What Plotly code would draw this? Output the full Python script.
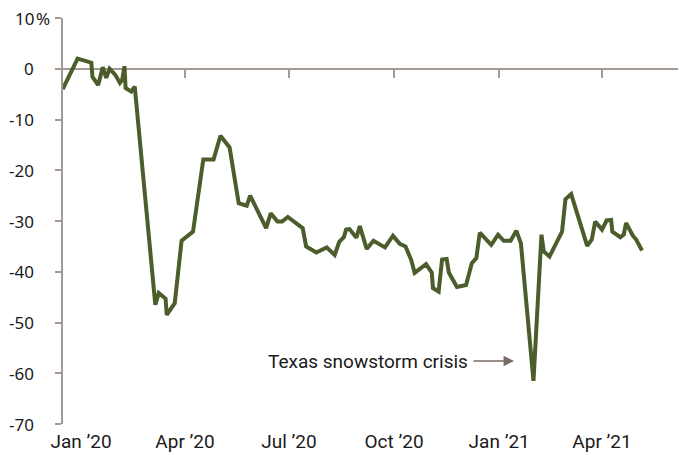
import plotly.graph_objects as go

# Weekly year-over-year change in spending, %
dates = [
    "2019-12-16", "2019-12-29", "2020-01-10", "2020-01-11", "2020-01-16",
    "2020-01-20", "2020-01-23", "2020-01-26", "2020-01-31", "2020-02-04",
    "2020-02-06", "2020-02-08", "2020-02-09", "2020-02-14", "2020-02-17",
    "2020-03-06", "2020-03-09", "2020-03-15", "2020-03-16", "2020-03-23",
    "2020-03-29", "2020-04-08", "2020-04-17", "2020-04-26", "2020-05-02",
    "2020-05-10", "2020-05-18", "2020-05-25", "2020-05-28", "2020-06-11",
    "2020-06-15", "2020-06-21", "2020-06-25", "2020-06-30", "2020-07-13",
    "2020-07-16", "2020-07-25", "2020-08-03", "2020-08-10", "2020-08-14",
    "2020-08-18", "2020-08-20", "2020-08-23", "2020-08-29", "2020-09-01",
    "2020-09-07", "2020-09-13", "2020-09-23", "2020-09-30", "2020-10-06",
    "2020-10-11", "2020-10-16", "2020-10-19", "2020-10-29", "2020-11-03",
    "2020-11-04", "2020-11-09", "2020-11-12", "2020-11-16", "2020-11-18",
    "2020-11-25", "2020-12-03", "2020-12-08", "2020-12-12", "2020-12-15",
    "2020-12-25", "2020-12-31", "2021-01-05", "2021-01-11", "2021-01-16",
    "2021-01-20", "2021-01-31", "2021-02-07", "2021-02-09", "2021-02-14",
    "2021-02-25", "2021-02-28", "2021-03-05", "2021-03-19", "2021-03-23",
    "2021-03-26", "2021-04-01", "2021-04-05", "2021-04-09", "2021-04-10",
    "2021-04-17", "2021-04-20", "2021-04-22", "2021-04-28", "2021-05-01",
    "2021-05-06",
]
values = [
    -4.0, 2.0, 1.2, -1.6, -3.2,
    0.3, -1.8, 0.0, -1.2, -2.8,
    -2.2, 0.5, -3.8, -4.5, -3.5,
    -46.5, -44.2, -45.3, -48.5, -46.2,
    -33.9, -32.1, -17.9, -17.9, -13.2,
    -15.5, -26.5, -27.0, -25.0, -31.4,
    -28.5, -30.1, -30.1, -29.2, -31.4,
    -35.0, -36.2, -35.2, -36.7, -34.1,
    -33.2, -31.7, -31.6, -33.3, -31.0,
    -35.5, -33.9, -35.2, -32.9, -34.5,
    -35.0, -37.7, -40.2, -38.5, -40.2,
    -43.2, -43.9, -37.6, -37.5, -40.2,
    -43.0, -42.6, -38.3, -37.3, -32.3,
    -34.7, -32.7, -33.9, -33.9, -31.9,
    -34.4, -61.5, -32.7, -36.0, -37.0,
    -32.1, -25.7, -24.7, -34.9, -33.7,
    -30.1, -31.7, -29.9, -29.8, -32.1,
    -33.2, -32.7, -30.4, -32.9, -33.7,
    -35.8,
]

tick_dates = ["2020-01-01", "2020-04-01", "2020-07-01",
              "2020-10-01", "2021-01-01", "2021-04-01"]
tick_labels = ["Jan ’20", "Apr ’20", "Jul ’20", "Oct ’20", "Jan ’21", "Apr ’21"]
y_ticks = [10, 0, -10, -20, -30, -40, -50, -60, -70]

note_text = "Texas snowstorm crisis"
note_tip = ("2021-01-14", -57.6)

W, H = 679, 455
M_L, M_R, M_T, M_B = 63, 1, 18, 31
X_RANGE = ["2019-12-16 05:00", "2021-06-06 12:00"]
Y_RANGE = [-70, 10]

LINE_GREEN = "#4b5d2a"
AXIS_GREY = "#a39a94"
ARROW_GREY = "#7b6b66"
TEXT = "#1a1a1a"

fig = go.Figure()
fig.add_trace(go.Scatter(
    x=dates, y=values, mode="lines",
    line=dict(color=LINE_GREEN, width=4),
    showlegend=False, hoverinfo="x+y",
))
# empty trace so the zero-line axis is drawn
fig.add_trace(go.Scatter(x=[], y=[], xaxis="x2", yaxis="y",
                         showlegend=False, hoverinfo="skip"))

zero_pos = (0 - Y_RANGE[0]) / (Y_RANGE[1] - Y_RANGE[0])

fig.update_layout(
    width=W, height=H,
    margin=dict(l=M_L, r=M_R, t=M_T, b=M_B, pad=0),
    paper_bgcolor="white", plot_bgcolor="white",
    xaxis=dict(
        type="date", range=X_RANGE,
        showgrid=False, zeroline=False, showline=False, ticks="",
        tickmode="array", tickvals=tick_dates, ticktext=tick_labels,
        tickfont=dict(family="Roboto", size=19, color=TEXT),
        ticklabelstandoff=4,
    ),
    xaxis2=dict(
        type="date", range=X_RANGE, overlaying="x",
        anchor="free", position=zero_pos, side="bottom",
        showgrid=False, zeroline=False,
        showline=True, linecolor=AXIS_GREY, linewidth=1.5,
        ticks="outside", ticklen=8, tickwidth=1.5, tickcolor=AXIS_GREY,
        tickmode="array", tickvals=tick_dates[1:], showticklabels=False,
        layer="below traces",
    ),
    yaxis=dict(
        range=Y_RANGE, showgrid=False, zeroline=False,
        showline=True, linecolor=AXIS_GREY, linewidth=1.5,
        ticks="outside", ticklen=6, tickwidth=1.5, tickcolor=AXIS_GREY,
        tickmode="array", tickvals=y_ticks, showticklabels=False,
        layer="below traces",
    ),
)

# y-axis labels: numbers right-aligned, the % sign hangs past them
plot_w = W - M_L - M_R
label_x = (35 - M_L) / plot_w
label_font = dict(family="Noto Sans", size=17, color=TEXT)
for v in y_ticks:
    fig.add_annotation(
        x=label_x, y=v, xref="paper", yref="y",
        text=str(v), showarrow=False, xanchor="right", yanchor="middle",
        borderpad=0, font=label_font,
    )
fig.add_annotation(
    x=label_x, y=y_ticks[0], xref="paper", yref="y",
    text="%", showarrow=False, xanchor="left", yanchor="middle",
    borderpad=0, font=label_font,
)

# callout for the February 2021 dip
fig.add_annotation(
    x=note_tip[0], y=note_tip[1], xref="x", yref="y",
    text=note_text, showarrow=True,
    ax=-146, ay=0,
    arrowhead=2, arrowsize=1.4, arrowwidth=1.5, arrowcolor=ARROW_GREY,
    startstandoff=5, borderpad=0,
    font=dict(family="Roboto", size=19, color=TEXT),
)

fig.write_html("out.html")
